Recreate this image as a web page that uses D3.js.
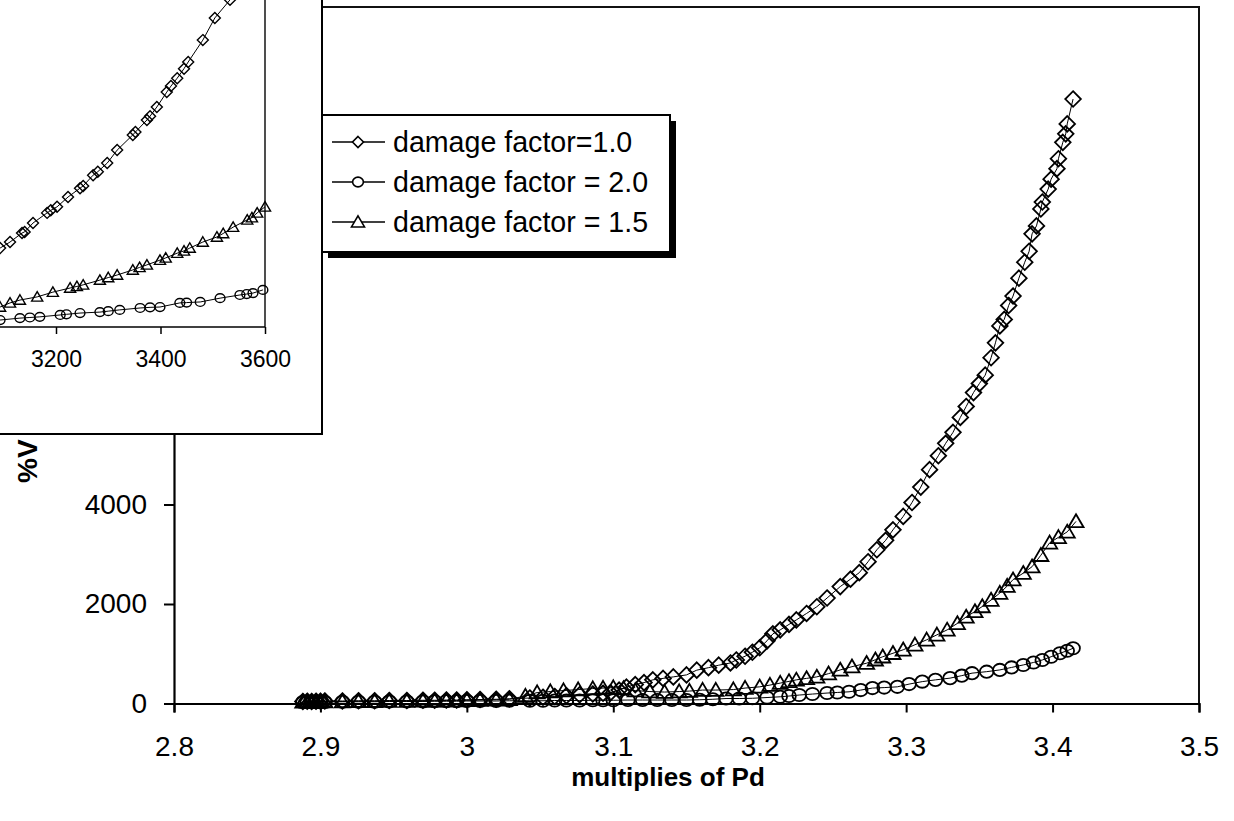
<!DOCTYPE html>
<html><head><meta charset="utf-8">
<script src="https://cdn.jsdelivr.net/npm/d3@7"></script>
<style>body{margin:0;background:#fff}svg{display:block}text{font-family:Arial,"Liberation Sans",sans-serif;fill:#000}</style>
</head><body><svg id="c" width="1234" height="821"></svg>
<script>
const xTicks=[2.8,2.9,3,3.1,3.2,3.3,3.4,3.5];
const yTicks=[0,2000,4000,6000,8000,10000,12000];
const insetTicks=[3200,3400,3600];
const seriesNames=["damage factor=1.0","damage factor = 2.0","damage factor = 1.5"];
const xTitle="multiplies of Pd";
const yTitle="%V";
// main chart: [multiple of Pd, %V]
const df10=[[2.888,40],[2.891,45],[2.894,40],[2.897,45],[2.900,45],[2.903,50],[2.915,50],[2.926,55],[2.937,55],[2.947,60],[2.959,60],[2.970,65],[2.978,65],[2.986,70],[2.993,70],[3.000,75],[3.009,80],[3.020,85],[3.029,95],[3.043,110],[3.052,125],[3.060,140],[3.068,155],[3.077,175],[3.086,190],[3.093,205],[3.098,215],[3.104,270],[3.109,330],[3.115,380],[3.121,420],[3.127,475],[3.134,505],[3.141,535],[3.150,575],[3.157,670],[3.165,720],[3.172,770],[3.180,815],[3.184,875],[3.190,950],[3.195,1030],[3.200,1120],[3.205,1260],[3.209,1400],[3.214,1480],[3.220,1590],[3.225,1680],[3.232,1810],[3.239,1945],[3.246,2120],[3.255,2350],[3.262,2500],[3.268,2630],[3.274,2850],[3.280,3090],[3.286,3280],[3.291,3490],[3.298,3760],[3.304,4040],[3.310,4350],[3.316,4700],[3.322,4980],[3.327,5230],[3.332,5450],[3.337,5750],[3.341,5970],[3.346,6250],[3.350,6430],[3.354,6600],[3.358,6950],[3.361,7250],[3.364,7590],[3.367,7720],[3.370,8000],[3.373,8190],[3.377,8550],[3.381,8870],[3.384,9090],[3.386,9440],[3.389,9600],[3.392,9940],[3.393,10080],[3.397,10340],[3.399,10540],[3.403,10750],[3.404,10950],[3.407,11280],[3.409,11450],[3.410,11650],[3.414,12150]];
const df20=[[2.888,30],[2.891,30],[2.894,30],[2.897,30],[2.900,30],[2.903,30],[2.915,35],[2.926,35],[2.937,35],[2.947,40],[2.959,40],[2.970,40],[2.978,45],[2.986,45],[2.993,45],[3.000,50],[3.009,50],[3.020,50],[3.029,55],[3.043,55],[3.052,55],[3.060,60],[3.068,60],[3.077,60],[3.086,65],[3.093,65],[3.100,65],[3.110,70],[3.120,70],[3.130,70],[3.140,70],[3.150,70],[3.159,75],[3.168,85],[3.177,100],[3.186,100],[3.195,105],[3.205,120],[3.214,135],[3.220,150],[3.227,170],[3.236,190],[3.246,210],[3.253,222],[3.261,235],[3.269,270],[3.277,310],[3.285,320],[3.294,335],[3.302,390],[3.311,440],[3.320,475],[3.330,510],[3.338,560],[3.345,610],[3.355,640],[3.364,675],[3.372,725],[3.380,775],[3.387,825],[3.393,875],[3.399,940],[3.405,1010],[3.410,1060],[3.414,1110]];
const df15=[[2.888,35],[2.891,35],[2.894,35],[2.897,35],[2.900,40],[2.903,40],[2.915,40],[2.926,45],[2.937,45],[2.947,50],[2.959,50],[2.970,55],[2.978,55],[2.986,60],[2.993,60],[3.000,65],[3.009,70],[3.020,75],[3.029,85],[3.040,150],[3.048,220],[3.057,240],[3.066,260],[3.076,280],[3.086,300],[3.093,310],[3.100,320],[3.107,300],[3.115,260],[3.125,240],[3.135,230],[3.145,240],[3.152,250],[3.161,270],[3.170,270],[3.182,280],[3.190,310],[3.200,335],[3.207,370],[3.214,410],[3.220,445],[3.225,475],[3.232,505],[3.239,535],[3.247,600],[3.255,675],[3.263,740],[3.273,810],[3.279,880],[3.284,940],[3.291,1010],[3.298,1080],[3.306,1180],[3.314,1280],[3.321,1380],[3.328,1480],[3.335,1610],[3.341,1740],[3.347,1850],[3.352,1950],[3.358,2080],[3.364,2220],[3.369,2360],[3.373,2490],[3.380,2620],[3.386,2750],[3.392,2980],[3.398,3230],[3.404,3340],[3.410,3450],[3.416,3660]];
// inset chart: [load, %V]
const insetDiamond=[[3080,2400],[3093,2490],[3112,2680],[3135,2965],[3140,3000],[3156,3280],[3183,3600],[3190,3680],[3202,3790],[3223,4100],[3246,4380],[3252,4450],[3271,4790],[3280,4900],[3298,5170],[3317,5580],[3347,6060],[3352,6150],[3374,6530],[3380,6650],[3393,6940],[3412,7410],[3420,7600],[3432,7850],[3445,8150],[3453,8360],[3481,9050],[3504,9750],[3533,10320]];
const insetTriangle=[[3080,580],[3093,630],[3112,760],[3131,850],[3164,950],[3194,1100],[3227,1230],[3240,1280],[3252,1330],[3284,1480],[3300,1560],[3317,1640],[3347,1800],[3360,1880],[3374,1960],[3399,2110],[3410,2180],[3432,2330],[3445,2400],[3456,2490],[3481,2680],[3508,2840],[3520,2950],[3539,3150],[3566,3380],[3575,3450],[3585,3600],[3600,3790]];
const insetCircle=[[3080,200],[3093,220],[3131,280],[3150,300],[3169,320],[3208,380],[3220,400],[3246,440],[3284,470],[3300,500],[3322,540],[3361,600],[3380,620],[3399,630],[3437,760],[3450,770],[3476,790],[3514,910],[3552,1010],[3565,1040],[3577,1070],[3596,1170]];

const svg=d3.select("#c");
const M={l:174,r:1199,t:7,b:703.5};
const x=d3.scaleLinear().domain([2.8,3.5]).range([M.l,M.r]);
const y=d3.scaleLinear().domain([0,14000]).range([M.b,M.t]);
const FF="Arial, 'Liberation Sans', sans-serif";

function marker(g,shape,s){
  if(shape==="diamond") g.append("path").attr("d",`M0,${-s}L${s},0L0,${s}L${-s},0Z`);
  else if(shape==="circle") g.append("ellipse").attr("rx",s*0.98).attr("ry",s*0.88);
  else g.append("path").attr("d",`M0,${-s*1.0}L${s*1.05},${s*0.8}L${-s*1.05},${s*0.8}Z`);
}
function drawSeries(root,data,sx,sy,shape,s,sw){
  const g=root.append("g");
  g.append("path").datum(data).attr("fill","none").attr("stroke","#000").attr("stroke-width",1)
   .attr("d",d3.line().x(d=>sx(d[0])).y(d=>sy(d[1])));
  const m=g.selectAll("g.m").data(data).join("g").attr("class","m")
   .attr("transform",d=>`translate(${sx(d[0])},${sy(d[1])})`)
   .attr("fill","none").attr("stroke","#000").attr("stroke-width",sw);
  m.each(function(){marker(d3.select(this),shape,s);});
}

// frame
svg.append("path").attr("d",`M${M.l},${M.t}H${M.r}V${M.b}`).attr("fill","none").attr("stroke","#111").attr("stroke-width",2);
// axes
const ya=svg.append("g").attr("transform",`translate(${M.l},0)`)
 .call(d3.axisLeft(y).tickValues(yTicks).tickSize(10).tickPadding(17).tickFormat(d3.format("d")));
ya.select(".domain").attr("stroke-width",2.2);
ya.selectAll(".tick line").attr("stroke-width",2);
ya.selectAll("text").attr("font-size",28).attr("font-family",FF);
const xa=svg.append("g").attr("transform",`translate(0,${M.b})`)
 .call(d3.axisBottom(x).tickValues(xTicks).tickSize(9).tickPadding(24).tickFormat(d=>String(d)));
xa.select(".domain").attr("stroke-width",2.2);
xa.selectAll(".tick line").attr("stroke-width",2);
xa.selectAll("text").attr("font-size",28).attr("font-family",FF);

svg.append("text").attr("x",668).attr("y",786).attr("text-anchor","middle")
 .attr("font-size",26).attr("font-weight","bold").text(xTitle);
svg.append("text").attr("transform","translate(37,483) rotate(-90)").attr("text-anchor","start")
 .attr("font-size",28).attr("font-weight","bold").text(yTitle);

// series
drawSeries(svg,df20,x,y,"circle",7,1.8);
drawSeries(svg,df15,x,y,"triangle",7.2,1.8);
drawSeries(svg,df10,x,y,"diamond",7.8,1.8);

// legend
const L={x:322,y:115,w:348,h:137};
svg.append("rect").attr("x",L.x+6).attr("y",L.y+6).attr("width",L.w).attr("height",L.h).attr("fill","#000");
svg.append("rect").attr("x",L.x).attr("y",L.y).attr("width",L.w).attr("height",L.h).attr("fill","#fff").attr("stroke","#000").attr("stroke-width",2);
const shapes=["diamond","circle","triangle"];
seriesNames.forEach((n,i)=>{
  const cy=142+i*40;
  const g=svg.append("g");
  g.append("line").attr("x1",332).attr("x2",385).attr("y1",cy).attr("y2",cy).attr("stroke","#000").attr("stroke-width",1.6);
  const mg=g.append("g").attr("transform",`translate(358,${cy})`).attr("fill","#fff").attr("stroke","#000").attr("stroke-width",1.6);
  marker(mg,shapes[i],i===2?6.2:5.5);
  g.append("text").attr("x",393).attr("y",cy+10).attr("font-size",28.6).text(n);
});

// inset
const ins=svg.append("g");
ins.append("rect").attr("x",-5).attr("y",-5).attr("width",327).attr("height",439).attr("fill","#fff").attr("stroke","#000").attr("stroke-width",2);
const ix=d3.scaleLinear().domain([3000,3600]).range([-48.5,265]);
const iy=d3.scaleLinear().domain([0,10000]).range([327,10]);
ins.append("line").attr("x1",265).attr("x2",265).attr("y1",-5).attr("y2",327).attr("stroke","#222").attr("stroke-width",1.6);
const ia=ins.append("g").attr("transform","translate(0,327)")
 .call(d3.axisBottom(ix).tickValues(insetTicks).tickSize(7).tickPadding(17).tickFormat(d3.format("d")));
ia.select(".domain").attr("stroke-width",1.6).attr("d","M0,0H265");
ia.selectAll(".tick line").attr("stroke-width",1.5);
ia.selectAll("text").attr("font-size",23).attr("font-family",FF);
svg.append("defs").append("clipPath").attr("id","ic").append("rect").attr("x",-5).attr("y",-5).attr("width",326).attr("height",438);
const ip=ins.append("g").attr("clip-path","url(#ic)");
drawSeries(ip,insetCircle,ix,iy,"circle",5,1.4);
drawSeries(ip,insetTriangle,ix,iy,"triangle",5.3,1.4);
drawSeries(ip,insetDiamond,ix,iy,"diamond",5.5,1.4);
</script></body></html>
